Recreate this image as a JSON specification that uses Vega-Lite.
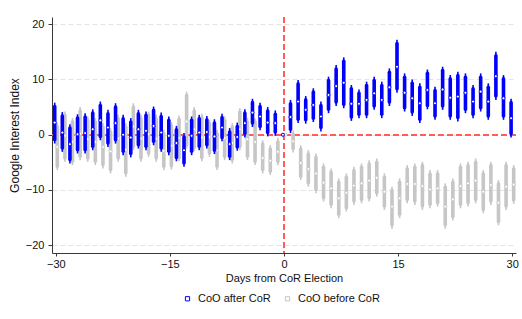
{
  "$schema": "https://vega.github.io/schema/vega-lite/v6.json",
  "width": 464,
  "height": 236,
  "autosize": {"type": "none"},
  "padding": {"left": 52, "top": 17, "right": 6, "bottom": 66},
  "background": "white",
  "config": {
    "view": {"stroke": null},
    "font": "Liberation Sans",
    "axis": {"domainColor": "#3a3a3a", "tickColor": "#3a3a3a", "labelColor": "#111111", "titleColor": "#111111", "labelFontSize": 11, "titleFontSize": 11, "titleFontWeight": "normal"},
    "legend": {"orient": "none", "legendX": 130, "legendY": 276, "direction": "horizontal", "symbolType": "square", "symbolSize": 18, "symbolStrokeWidth": 1, "symbolFillColor": "white", "labelFontSize": 11, "labelColor": "#111111", "columnPadding": 11, "labelOffset": 5, "title": null}
  },
  "datasets": {
    "after": [
      {"d": -30, "c": 2.2, "lo": -1.6, "hi": 5.8, "l2": -0.9, "h2": 5.1},
      {"d": -29, "c": 0.4, "lo": -3.1, "hi": 4.1, "l2": -2.4, "h2": 3.4},
      {"d": -28, "c": -1.7, "lo": -5.2, "hi": 1.9, "l2": -4.5, "h2": 1.2},
      {"d": -27, "c": 0.1, "lo": -3.4, "hi": 3.7, "l2": -2.7, "h2": 3.0},
      {"d": -26, "c": 0.3, "lo": -3.4, "hi": 3.9, "l2": -2.7, "h2": 3.2},
      {"d": -25, "c": 1.0, "lo": -2.8, "hi": 4.6, "l2": -2.1, "h2": 3.9},
      {"d": -24, "c": 2.6, "lo": -1.0, "hi": 6.0, "l2": -0.3, "h2": 5.3},
      {"d": -23, "c": 1.3, "lo": -2.2, "hi": 4.5, "l2": -1.5, "h2": 3.8},
      {"d": -22, "c": 2.1, "lo": -1.6, "hi": 5.7, "l2": -0.9, "h2": 5.0},
      {"d": -21, "c": 0.0, "lo": -3.7, "hi": 3.6, "l2": -3.0, "h2": 2.9},
      {"d": -20, "c": -0.5, "lo": -4.1, "hi": 3.0, "l2": -3.4, "h2": 2.3},
      {"d": -19, "c": 1.0, "lo": -2.5, "hi": 4.5, "l2": -1.8, "h2": 3.8},
      {"d": -18, "c": 0.7, "lo": -2.8, "hi": 4.2, "l2": -2.1, "h2": 3.5},
      {"d": -17, "c": 1.6, "lo": -1.9, "hi": 5.1, "l2": -1.2, "h2": 4.4},
      {"d": -16, "c": 0.4, "lo": -3.1, "hi": 4.0, "l2": -2.4, "h2": 3.3},
      {"d": -15, "c": -0.2, "lo": -3.7, "hi": 3.3, "l2": -3.0, "h2": 2.6},
      {"d": -14, "c": -1.5, "lo": -4.8, "hi": 1.6, "l2": -4.1, "h2": 0.9},
      {"d": -13, "c": -2.8, "lo": -5.8, "hi": 0.3, "l2": -5.1, "h2": -0.4},
      {"d": -12, "c": -0.2, "lo": -3.7, "hi": 3.3, "l2": -3.0, "h2": 2.6},
      {"d": -11, "c": 0.4, "lo": -2.8, "hi": 3.6, "l2": -2.1, "h2": 2.9},
      {"d": -10, "c": 0.5, "lo": -2.5, "hi": 3.4, "l2": -1.8, "h2": 2.7},
      {"d": -9, "c": -0.3, "lo": -3.5, "hi": 2.8, "l2": -2.8, "h2": 2.1},
      {"d": -8, "c": 1.3, "lo": -1.2, "hi": 3.8, "l2": -0.5, "h2": 3.1},
      {"d": -7, "c": -1.7, "lo": -4.6, "hi": 1.2, "l2": -3.9, "h2": 0.5},
      {"d": -6, "c": -0.4, "lo": -2.9, "hi": 2.2, "l2": -2.2, "h2": 1.5},
      {"d": -5, "c": 2.1, "lo": -0.5, "hi": 4.6, "l2": 0.2, "h2": 3.9},
      {"d": -4, "c": 4.0, "lo": 1.4, "hi": 6.5, "l2": 2.1, "h2": 5.8},
      {"d": -3, "c": 3.3, "lo": 0.8, "hi": 5.8, "l2": 1.5, "h2": 5.1},
      {"d": -2, "c": 2.2, "lo": -0.3, "hi": 5.0, "l2": 0.4, "h2": 4.3},
      {"d": -1, "c": 2.1, "lo": -0.2, "hi": 4.4, "l2": 0.5, "h2": 3.7},
      {"d": 0, "c": 0.0, "lo": 0.0, "hi": 0.0, "l2": 0.0, "h2": 0.0},
      {"d": 1, "c": 3.2, "lo": 0.3, "hi": 6.3, "l2": 1.0, "h2": 5.6},
      {"d": 2, "c": 6.0, "lo": 2.1, "hi": 9.9, "l2": 2.8, "h2": 9.2},
      {"d": 3, "c": 4.5, "lo": 2.0, "hi": 7.0, "l2": 2.7, "h2": 6.3},
      {"d": 4, "c": 5.4, "lo": 2.3, "hi": 8.4, "l2": 3.0, "h2": 7.7},
      {"d": 5, "c": 3.3, "lo": 0.6, "hi": 6.0, "l2": 1.3, "h2": 5.3},
      {"d": 6, "c": 7.2, "lo": 3.9, "hi": 10.5, "l2": 4.6, "h2": 9.8},
      {"d": 7, "c": 8.8, "lo": 5.2, "hi": 12.6, "l2": 5.9, "h2": 11.9},
      {"d": 8, "c": 9.4, "lo": 4.8, "hi": 14.0, "l2": 5.5, "h2": 13.3},
      {"d": 9, "c": 5.6, "lo": 2.5, "hi": 9.0, "l2": 3.2, "h2": 8.3},
      {"d": 10, "c": 5.6, "lo": 3.0, "hi": 8.2, "l2": 3.7, "h2": 7.5},
      {"d": 11, "c": 6.3, "lo": 3.0, "hi": 9.6, "l2": 3.7, "h2": 8.9},
      {"d": 12, "c": 7.5, "lo": 4.5, "hi": 10.5, "l2": 5.2, "h2": 9.8},
      {"d": 13, "c": 6.3, "lo": 3.0, "hi": 9.6, "l2": 3.7, "h2": 8.9},
      {"d": 14, "c": 8.6, "lo": 5.2, "hi": 12.0, "l2": 5.9, "h2": 11.3},
      {"d": 15, "c": 12.3, "lo": 7.6, "hi": 17.2, "l2": 8.3, "h2": 16.5},
      {"d": 16, "c": 7.6, "lo": 4.2, "hi": 11.1, "l2": 4.9, "h2": 10.4},
      {"d": 17, "c": 6.6, "lo": 3.4, "hi": 10.0, "l2": 4.1, "h2": 9.3},
      {"d": 18, "c": 5.7, "lo": 2.1, "hi": 9.3, "l2": 2.8, "h2": 8.6},
      {"d": 19, "c": 8.1, "lo": 4.6, "hi": 11.8, "l2": 5.3, "h2": 11.1},
      {"d": 20, "c": 5.7, "lo": 2.7, "hi": 8.7, "l2": 3.4, "h2": 8.0},
      {"d": 21, "c": 8.2, "lo": 4.5, "hi": 12.3, "l2": 5.2, "h2": 11.6},
      {"d": 22, "c": 6.7, "lo": 2.7, "hi": 10.8, "l2": 3.4, "h2": 10.1},
      {"d": 23, "c": 6.9, "lo": 2.4, "hi": 11.4, "l2": 3.1, "h2": 10.7},
      {"d": 24, "c": 7.6, "lo": 3.9, "hi": 11.1, "l2": 4.6, "h2": 10.4},
      {"d": 25, "c": 6.0, "lo": 3.0, "hi": 9.0, "l2": 3.7, "h2": 8.3},
      {"d": 26, "c": 7.8, "lo": 4.2, "hi": 11.1, "l2": 4.9, "h2": 10.4},
      {"d": 27, "c": 6.0, "lo": 2.7, "hi": 9.3, "l2": 3.4, "h2": 8.6},
      {"d": 28, "c": 10.6, "lo": 6.3, "hi": 15.0, "l2": 7.0, "h2": 14.3},
      {"d": 29, "c": 6.6, "lo": 2.7, "hi": 10.8, "l2": 3.4, "h2": 10.1},
      {"d": 30, "c": 3.0, "lo": -0.5, "hi": 6.5, "l2": 0.2, "h2": 5.8}
    ],
    "before": [
      {"d": -30, "c": -2.2, "lo": -6.4, "hi": 2.1, "l2": -5.7, "h2": 1.4},
      {"d": -29, "c": -0.2, "lo": -4.9, "hi": 4.2, "l2": -4.2, "h2": 3.5},
      {"d": -28, "c": -1.3, "lo": -5.5, "hi": 3.0, "l2": -4.8, "h2": 2.3},
      {"d": -27, "c": 0.2, "lo": -4.6, "hi": 5.0, "l2": -3.9, "h2": 4.3},
      {"d": -26, "c": -0.8, "lo": -4.9, "hi": 3.3, "l2": -4.2, "h2": 2.6},
      {"d": -25, "c": -1.3, "lo": -5.5, "hi": 3.0, "l2": -4.8, "h2": 2.3},
      {"d": -24, "c": -2.2, "lo": -6.1, "hi": 2.1, "l2": -5.4, "h2": 1.4},
      {"d": -23, "c": -3.0, "lo": -7.0, "hi": 1.2, "l2": -6.3, "h2": 0.5},
      {"d": -22, "c": -0.7, "lo": -4.9, "hi": 3.6, "l2": -4.2, "h2": 2.9},
      {"d": -21, "c": -2.7, "lo": -7.6, "hi": 2.1, "l2": -6.9, "h2": 1.4},
      {"d": -20, "c": 1.5, "lo": -2.8, "hi": 5.7, "l2": -2.1, "h2": 5.0},
      {"d": -19, "c": -0.7, "lo": -4.9, "hi": 3.6, "l2": -4.2, "h2": 2.9},
      {"d": -18, "c": 0.1, "lo": -4.0, "hi": 4.2, "l2": -3.3, "h2": 3.5},
      {"d": -17, "c": -0.7, "lo": -4.9, "hi": 3.6, "l2": -4.2, "h2": 2.9},
      {"d": -16, "c": -2.9, "lo": -6.4, "hi": 0.9, "l2": -5.7, "h2": 0.2},
      {"d": -15, "c": -2.0, "lo": -6.3, "hi": 2.3, "l2": -5.6, "h2": 1.6},
      {"d": -14, "c": -0.6, "lo": -4.8, "hi": 3.5, "l2": -4.1, "h2": 2.8},
      {"d": -13, "c": 2.4, "lo": -2.5, "hi": 7.8, "l2": -1.8, "h2": 7.1},
      {"d": -12, "c": 1.0, "lo": -3.0, "hi": 5.0, "l2": -2.3, "h2": 4.3},
      {"d": -11, "c": -0.5, "lo": -4.8, "hi": 3.8, "l2": -4.1, "h2": 3.1},
      {"d": -10, "c": -0.4, "lo": -4.0, "hi": 2.7, "l2": -3.3, "h2": 2.0},
      {"d": -9, "c": -2.8, "lo": -6.4, "hi": 0.9, "l2": -5.7, "h2": 0.2},
      {"d": -8, "c": -0.6, "lo": -4.6, "hi": 3.3, "l2": -3.9, "h2": 2.6},
      {"d": -7, "c": -1.5, "lo": -5.2, "hi": 2.1, "l2": -4.5, "h2": 1.4},
      {"d": -6, "c": 1.0, "lo": -2.8, "hi": 4.8, "l2": -2.1, "h2": 4.1},
      {"d": -5, "c": -0.8, "lo": -4.6, "hi": 3.0, "l2": -3.9, "h2": 2.3},
      {"d": -4, "c": -1.3, "lo": -5.5, "hi": 3.0, "l2": -4.8, "h2": 2.3},
      {"d": -3, "c": -4.2, "lo": -7.0, "hi": -1.0, "l2": -6.3, "h2": -1.7},
      {"d": -2, "c": -4.7, "lo": -7.3, "hi": -1.9, "l2": -6.6, "h2": -2.6},
      {"d": -1, "c": -3.1, "lo": -5.5, "hi": -0.6, "l2": -4.8, "h2": -1.3},
      {"d": 0, "c": 0.0, "lo": 0.0, "hi": 0.0, "l2": 0.0, "h2": 0.0},
      {"d": 1, "c": -1.2, "lo": -3.2, "hi": 0.8, "l2": -2.5, "h2": 0.1},
      {"d": 2, "c": -5.1, "lo": -8.2, "hi": -1.9, "l2": -7.5, "h2": -2.6},
      {"d": 3, "c": -6.2, "lo": -9.4, "hi": -2.8, "l2": -8.7, "h2": -3.5},
      {"d": 4, "c": -7.0, "lo": -10.6, "hi": -3.4, "l2": -9.9, "h2": -4.1},
      {"d": 5, "c": -8.7, "lo": -12.1, "hi": -5.2, "l2": -11.4, "h2": -5.9},
      {"d": 6, "c": -9.7, "lo": -13.3, "hi": -6.1, "l2": -12.6, "h2": -6.8},
      {"d": 7, "c": -11.5, "lo": -15.1, "hi": -7.9, "l2": -14.4, "h2": -8.6},
      {"d": 8, "c": -10.5, "lo": -13.9, "hi": -7.0, "l2": -13.2, "h2": -7.7},
      {"d": 9, "c": -9.2, "lo": -12.7, "hi": -5.8, "l2": -12.0, "h2": -6.5},
      {"d": 10, "c": -8.8, "lo": -12.4, "hi": -5.2, "l2": -11.7, "h2": -5.9},
      {"d": 11, "c": -8.3, "lo": -12.1, "hi": -4.6, "l2": -11.4, "h2": -5.3},
      {"d": 12, "c": -7.8, "lo": -11.2, "hi": -4.3, "l2": -10.5, "h2": -5.0},
      {"d": 13, "c": -10.3, "lo": -13.6, "hi": -7.0, "l2": -12.9, "h2": -7.7},
      {"d": 14, "c": -13.0, "lo": -17.0, "hi": -9.4, "l2": -16.3, "h2": -10.1},
      {"d": 15, "c": -11.5, "lo": -15.1, "hi": -7.9, "l2": -14.4, "h2": -8.6},
      {"d": 16, "c": -8.9, "lo": -12.4, "hi": -5.5, "l2": -11.7, "h2": -6.2},
      {"d": 17, "c": -8.9, "lo": -12.7, "hi": -5.2, "l2": -12.0, "h2": -5.9},
      {"d": 18, "c": -9.3, "lo": -13.6, "hi": -4.9, "l2": -12.9, "h2": -5.6},
      {"d": 19, "c": -9.9, "lo": -13.3, "hi": -6.4, "l2": -12.6, "h2": -7.1},
      {"d": 20, "c": -9.7, "lo": -13.0, "hi": -6.4, "l2": -12.3, "h2": -7.1},
      {"d": 21, "c": -13.0, "lo": -17.0, "hi": -8.8, "l2": -16.3, "h2": -9.5},
      {"d": 22, "c": -11.7, "lo": -15.5, "hi": -7.9, "l2": -14.8, "h2": -8.6},
      {"d": 23, "c": -9.3, "lo": -13.3, "hi": -5.2, "l2": -12.6, "h2": -5.9},
      {"d": 24, "c": -8.8, "lo": -13.0, "hi": -4.9, "l2": -12.3, "h2": -5.6},
      {"d": 25, "c": -8.3, "lo": -12.4, "hi": -4.3, "l2": -11.7, "h2": -5.0},
      {"d": 26, "c": -10.3, "lo": -14.2, "hi": -6.4, "l2": -13.5, "h2": -7.1},
      {"d": 27, "c": -9.1, "lo": -12.7, "hi": -4.9, "l2": -12.0, "h2": -5.6},
      {"d": 28, "c": -12.3, "lo": -16.4, "hi": -8.2, "l2": -15.7, "h2": -8.9},
      {"d": 29, "c": -9.4, "lo": -13.6, "hi": -4.9, "l2": -12.9, "h2": -5.6},
      {"d": 30, "c": -9.0, "lo": -12.5, "hi": -5.5, "l2": -11.8, "h2": -6.2}
    ]
  },
  "layer": [
    {
      "data": {"name": "after"},
      "mark": {"type": "rule", "color": "#ff5c5c", "strokeDash": [6, 3], "strokeWidth": 1.2},
      "encoding": {
        "y": {"datum": 0, "type": "quantitative", "scale": {"domain": [-21.4, 21.3], "nice": false, "zero": false},
          "axis": {"values": [-20, -10, 0, 10, 20], "grid": true, "gridDash": [5, 3], "gridColor": "#e4e4e4", "title": "Google Interest Index", "titlePadding": 4, "titleFontSize": 12, "tickSize": 4, "labelPadding": 4}}
      }
    },
    {
      "data": {"name": "after"},
      "mark": {"type": "rule", "color": "#ff5c5c", "strokeDash": [6, 3], "strokeWidth": 1.2},
      "encoding": {
        "x": {"datum": 0, "type": "quantitative", "scale": {"domain": [-30.5, 30.5], "nice": false, "zero": false},
          "axis": {"values": [-30, -15, 0, 15, 30], "grid": false, "title": "Days from CoR Election", "titlePadding": 3, "tickSize": 3, "labelPadding": 2}}
      }
    },
    {
      "data": {"name": "before"},
      "mark": {"type": "rule", "color": "#c6c6c6", "strokeWidth": 1.6, "xOffset": 1.5},
      "encoding": {
        "x": {"field": "d", "type": "quantitative", "title": "Days from CoR Election"},
        "y": {"field": "lo", "type": "quantitative", "title": "Google Interest Index"},
        "y2": {"field": "hi"}
      }
    },
    {
      "data": {"name": "before"},
      "mark": {"type": "rule", "color": "#c6c6c6", "strokeWidth": 3.6, "strokeCap": "round", "xOffset": 1.5},
      "encoding": {
        "x": {"field": "d", "type": "quantitative", "title": "Days from CoR Election"},
        "y": {"field": "l2", "type": "quantitative", "title": "Google Interest Index"},
        "y2": {"field": "h2"}
      }
    },
    {
      "data": {"name": "before"},
      "mark": {"type": "point", "shape": "circle", "size": 9, "filled": false, "fill": "white", "fillOpacity": 1, "strokeWidth": 0.9, "opacity": 1, "xOffset": 1.5},
      "encoding": {
        "x": {"field": "d", "type": "quantitative", "title": "Days from CoR Election"},
        "y": {"field": "c", "type": "quantitative", "title": "Google Interest Index"},
        "color": {"datum": "CoO before CoR", "type": "nominal", "scale": {"domain": ["CoO after CoR", "CoO before CoR"], "range": ["#0000ff", "#c6c6c6"]}}
      }
    },
    {
      "data": {"name": "after"},
      "mark": {"type": "rule", "color": "#0000ff", "strokeWidth": 1.6, "xOffset": -1.1},
      "encoding": {
        "x": {"field": "d", "type": "quantitative", "title": "Days from CoR Election"},
        "y": {"field": "lo", "type": "quantitative", "title": "Google Interest Index"},
        "y2": {"field": "hi"}
      }
    },
    {
      "data": {"name": "after"},
      "mark": {"type": "rule", "color": "#0000ff", "strokeWidth": 3.6, "strokeCap": "round", "xOffset": -1.1},
      "encoding": {
        "x": {"field": "d", "type": "quantitative", "title": "Days from CoR Election"},
        "y": {"field": "l2", "type": "quantitative", "title": "Google Interest Index"},
        "y2": {"field": "h2"}
      }
    },
    {
      "data": {"name": "after"},
      "mark": {"type": "point", "shape": "circle", "size": 9, "filled": false, "fill": "white", "fillOpacity": 1, "strokeWidth": 0.9, "opacity": 1, "xOffset": -1.1},
      "encoding": {
        "x": {"field": "d", "type": "quantitative", "title": "Days from CoR Election"},
        "y": {"field": "c", "type": "quantitative", "title": "Google Interest Index"},
        "color": {"datum": "CoO after CoR", "type": "nominal", "scale": {"domain": ["CoO after CoR", "CoO before CoR"], "range": ["#0000ff", "#c6c6c6"]}}
      }
    }
  ]
}
